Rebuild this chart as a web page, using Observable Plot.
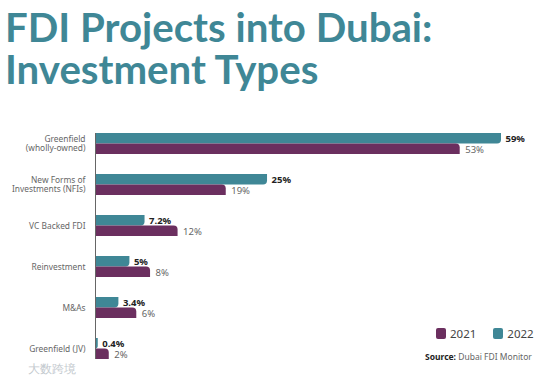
<!DOCTYPE html>
<html><head><meta charset="utf-8">
<script src="https://cdn.jsdelivr.net/npm/d3@7"></script>
<script src="https://cdn.jsdelivr.net/npm/@observablehq/plot@0.6"></script>
<style>
html,body{margin:0;padding:0;background:#fff;width:551px;height:379px;overflow:hidden;font-family:"Noto Sans",sans-serif}
#wrap{position:relative;width:551px;height:379px}
h1{margin:0;position:absolute;left:5px;top:6px;font:700 40.2px/42px Lato,sans-serif;color:#3f8796;white-space:nowrap}
h1 span{display:block;height:42px}
#chart{position:absolute;left:0;top:110px}
#chart svg{display:block;background:transparent}
.lg{position:absolute;top:326px;left:436px;display:flex;align-items:center;font-size:11.5px;color:#444;line-height:15px}
.sw{width:10px;height:11px;border-radius:2px;display:inline-block;margin-right:4px}
#src{position:absolute;left:425px;top:351px;font-size:8.5px;color:#666;line-height:12px}
#src b{color:#222}
#wm{position:absolute;left:28px;top:361px;font-size:11.5px;color:#c3c9ce;line-height:15px}
</style></head>
<body><div id="wrap">
<h1><span>FDI Projects into Dubai:</span><span>Investment Types</span></h1>
<div id="chart"></div>
<div class="lg"><span class="sw" style="background:#6b2f5f"></span><span style="margin-right:17px">2021</span><span class="sw" style="background:#3f8796"></span><span>2022</span></div>
<div id="src"><b>Source:</b> Dubai FDI Monitor</div>
<div id="wm">大数跨境</div>
</div>
<script>
const categories = ["Greenfield\n(wholly-owned)","New Forms of\nInvestments (NFIs)","VC Backed FDI","Reinvestment","M&As","Greenfield (JV)"];
const values2022 = [59,25,7.2,5,3.4,0.4];
const values2021 = [53,19,12,8,6,2];
const rows22 = categories.map((c,i)=>({c,v:values2022[i]}));
const rows21 = categories.map((c,i)=>({c,v:values2021[i]}));
const teal="#3f8796", plum="#6b2f5f";
const fmt = d => d.v+"%";
const plot = Plot.plot({
  width:551,height:269,marginLeft:95,marginRight:50,marginTop:23,marginBottom:20,
  style:{background:"transparent",fontFamily:"Noto Sans"},
  x:{domain:[0,59],axis:null},
  y:{domain:categories,paddingInner:0.49,paddingOuter:0,label:null,axis:null},
  marks:[
    Plot.axisY({tickSize:0,tickPadding:10,fontSize:8.4,lineHeight:1.08,label:null,color:"#666"}),
    Plot.barX(rows22,{x:"v",y:"c",fill:teal,insetBottom:10.5,rx2y2:4}),
    Plot.barX(rows21,{x:"v",y:"c",fill:plum,insetTop:10.5,rx2y1:4}),
    Plot.ruleX([0],{stroke:"#666",strokeWidth:1}),
    Plot.text(rows22,{x:"v",y:"c",text:fmt,dx:4,dy:-5.5,textAnchor:"start",fontWeight:700,fontSize:9.5,fill:"#222"}),
    Plot.text(rows21,{x:"v",y:"c",text:fmt,dx:5,dy:6,textAnchor:"start",fontSize:9.5,fill:"#666"})
  ]
});
document.getElementById("chart").appendChild(plot);
</script>
</body></html>
